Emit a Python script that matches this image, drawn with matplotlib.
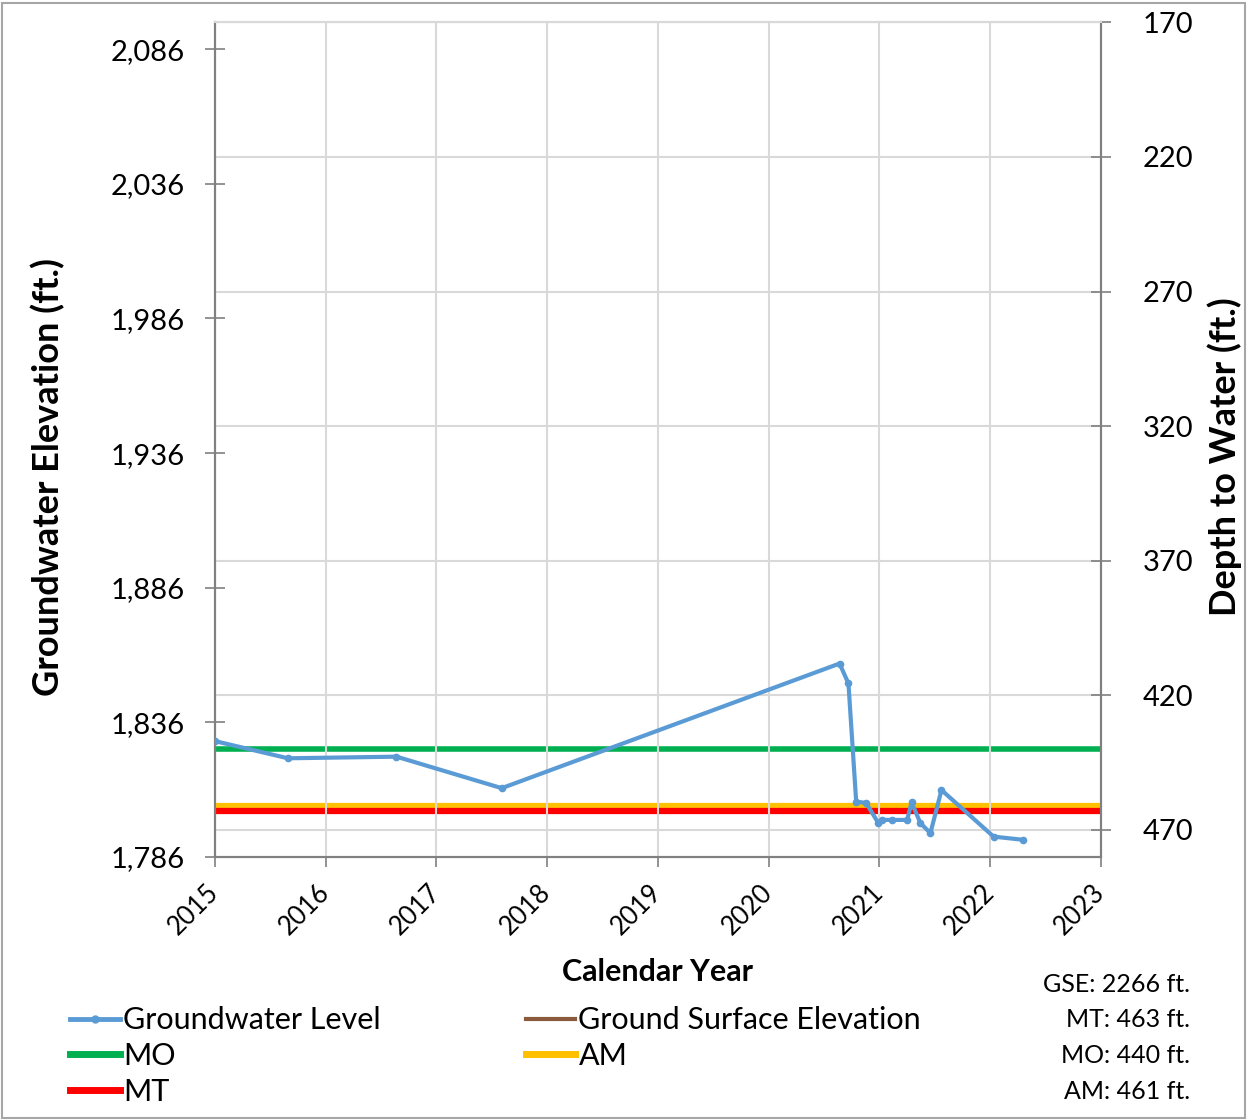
import matplotlib.pyplot as plt
from matplotlib.lines import Line2D
from matplotlib.patches import Rectangle
from matplotlib.ticker import FuncFormatter

plt.rcParams['font.family'] = ['Lato', 'DejaVu Sans']

# --- Data ---------------------------------------------------------------
gse = 2266
mo_depth = 440
am_depth = 461
mt_depth = 463

gw_year = [2015.00, 2015.66, 2016.64, 2017.59, 2020.64, 2020.72, 2020.79,
           2020.88, 2020.99, 2021.02, 2021.11, 2021.25, 2021.29, 2021.37,
           2021.46, 2021.56, 2022.03, 2022.30]
gw_elev = [1829.0, 1822.6, 1823.2, 1811.5, 1857.8, 1850.4, 1806.5,
           1806.0, 1798.5, 1799.7, 1799.7, 1799.7, 1806.2, 1798.5,
           1794.8, 1810.8, 1793.5, 1792.3]

left_ticks = [1786, 1836, 1886, 1936, 1986, 2036, 2086]
right_ticks = [170, 220, 270, 320, 370, 420, 470]
years = list(range(2015, 2024))

# --- Figure ------------------------------------------------------------
fig = plt.figure(figsize=(12.49, 11.2), dpi=100)
ax = fig.add_axes([0.172, 0.235, 0.7095, 0.745])
ax2 = ax.twinx()

blue = '#5B9BD5'
ax.plot(gw_year, gw_elev, '-o', color=blue, lw=3, ms=4.5, zorder=5)

# threshold lines are drawn in depth units on the right axis
ax2.axhline(mo_depth, color='#00B050', lw=4, zorder=3)
ax2.axhline(am_depth, color='#FFC000', lw=4.5, zorder=3)
ax2.axhline(mt_depth, color='#FF0000', lw=4.5, zorder=4)
ax2.axhline(gse - gse, color='#8B5A3C', lw=3)  # GSE, outside view

ax.set_zorder(ax2.get_zorder() + 1)
ax.patch.set_visible(False)

ax.set_xlim(2015, 2023)
ax.set_ylim(1786, 2096)
ax2.set_ylim(gse - 1786, gse - 2096)

ax.set_xticks(years)
ax.set_yticks(left_ticks)
ax2.set_yticks(right_ticks)
ax.yaxis.set_major_formatter(FuncFormatter(lambda v, p: f'{int(v):,}'))

ax.grid(True, axis='x', color='#D9D9D9', lw=1.5)
ax2.grid(True, axis='y', color='#D9D9D9', lw=1.5)
ax.grid(False, axis='y')

for a in (ax, ax2):
    for s in a.spines.values():
        s.set_color('#808080')
        s.set_linewidth(1.5)
    a.spines['top'].set_color('#D9D9D9')

ax.tick_params(axis='y', direction='inout', length=14, width=1.2,
               color='#808080', labelsize=21, pad=15)
ax2.tick_params(axis='y', direction='inout', length=14, width=1.2,
                color='#808080', labelsize=21, pad=23)
ax.tick_params(axis='x', direction='out', length=7, width=1.2,
               color='#808080', labelsize=18.5, pad=16)
for lbl in ax.get_xticklabels():
    lbl.set_rotation(45)
    lbl.set_ha('right')
    lbl.set_va('center')
    lbl.set_rotation_mode('anchor')

ax.set_xlabel('Calendar Year', fontsize=22, fontweight='bold')
ax.xaxis.label.set_va('center')
ax.xaxis.set_label_coords(0.5, -0.1377)

ax.set_ylabel('Groundwater Elevation (ft.)', fontsize=26, fontweight='bold')
ax.yaxis.label.set_va('center')
ax.yaxis.set_label_coords(-0.188, 0.455)
ax2.set_ylabel('Depth to Water (ft.)', fontsize=26, fontweight='bold')
ax2.yaxis.label.set_va('center')
ax2.yaxis.set_label_coords(1.14, 0.48)

# --- Legend -------------------------------------------------------------
handles = [
    Line2D([], [], color=blue, lw=3.5, marker='o', ms=5),
    Line2D([], [], color='#00B050', lw=5),
    Line2D([], [], color='#FF0000', lw=5),
    Line2D([], [], color='#8B5A3C', lw=3),
    Line2D([], [], color='#FFC000', lw=5),
]
labels = ['Groundwater Level', 'MO', 'MT', 'Ground Surface Elevation', 'AM']
fig.legend(handles, labels, ncol=2, loc='upper left',
           bbox_to_anchor=(0.056, 0.1016), frameon=False, fontsize=22,
           handlelength=1.63, handletextpad=0.1, columnspacing=4.75,
           labelspacing=0.26, borderaxespad=0, borderpad=0)

info = ['GSE: 2266 ft.', 'MT: 463 ft.', 'MO: 440 ft.', 'AM: 461 ft.']
for i, t in enumerate(info):
    fig.text(0.953, 1 - (984 + i * 35.7) / 1120, t, ha='right', va='center',
             fontsize=18)

fig.patches.append(Rectangle((0.002, 0.002), 0.995, 0.995, transform=fig.transFigure,
                             fill=False, edgecolor='#A6A6A6', lw=1.5))

fig.savefig('out.png', dpi=100)
